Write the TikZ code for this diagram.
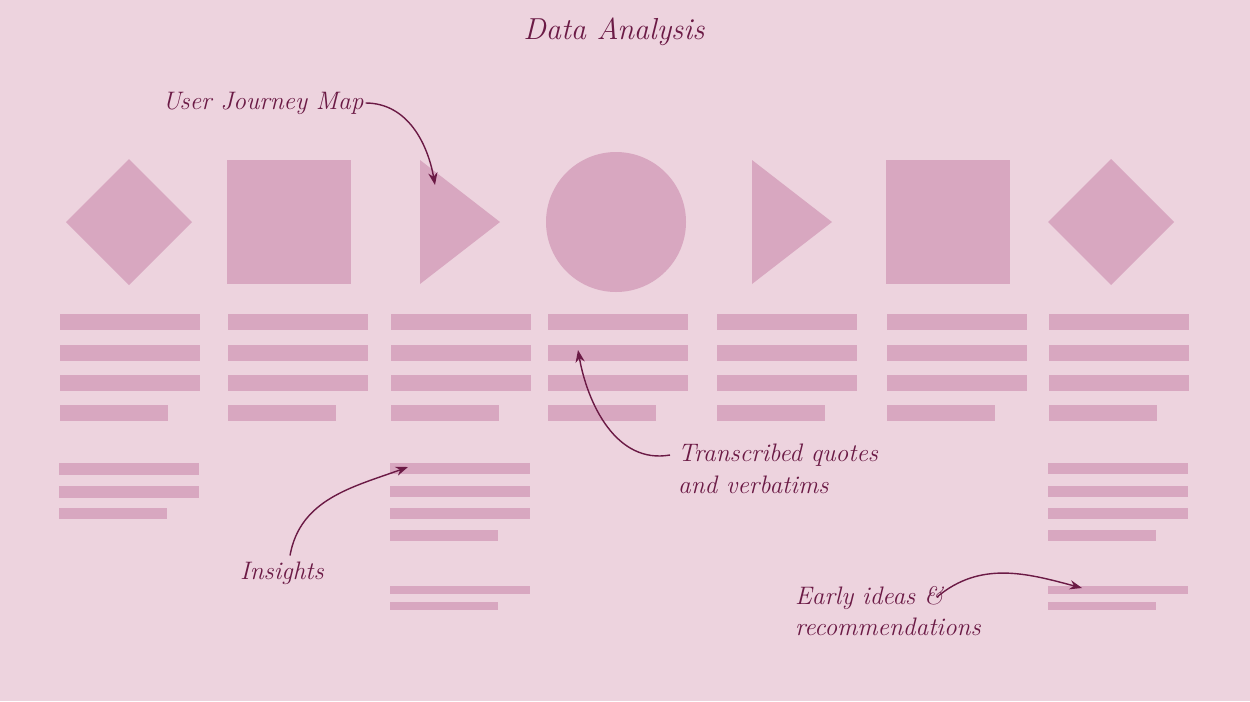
\documentclass[tikz,border=0pt]{standalone}
\usepackage{tikz}
\usetikzlibrary{positioning,arrows.meta}
\definecolor{bgpink}{HTML}{EDD3DE}
\definecolor{shapepink}{HTML}{D8A7C0}
\definecolor{inkred}{HTML}{6B1A45}
\tikzset{
  blob/.style={fill=shapepink,draw=none},
  note/.style={text=inkred,font=\itshape\Large,align=left,inner sep=1pt},
  pointer/.style={draw=inkred,line width=0.8pt,-{Stealth[length=7pt]}}
}
\begin{document}
\begin{tikzpicture}[x=0.02cm,y=-0.02cm]
    \fill[bgpink] (0,0) rectangle (1250,701);
    \useasboundingbox (0,0) rectangle (1250,701);
    % top shapes
    \fill[blob] (66,222) -- (129,159) -- (192,222) -- (129,285) -- cycle;
    \fill[blob] (227,160) rectangle (351,284);
    \fill[blob] (420,160) -- (500,222) -- (420,284) -- cycle;
    \fill[blob] (616,222) circle [radius=70];
    \fill[blob] (752,160) -- (832,222) -- (752,284) -- cycle;
    \fill[blob] (886,160) rectangle (1010,284);
    \fill[blob] (1048,222) -- (1111,159) -- (1174,222) -- (1111,285) -- cycle;
    % text bars under every shape
    \foreach \x in {60,228,391,548,717,887,1049} {
      \foreach \y in {314,345,375}
        \fill[blob] (\x,\y) rectangle ++(140,16);
      \fill[blob] (\x,405) rectangle ++(108,16);
    }
    % insight bars
    \foreach \y in {463,486}
      \fill[blob] (59,\y) rectangle ++(140,12);
    \fill[blob] (59,508) rectangle ++(108,11);
    \foreach \x in {390,1048} {
      \foreach \y in {463,486,508}
        \fill[blob] (\x,\y) rectangle ++(140,11);
      \fill[blob] (\x,530) rectangle ++(108,11);
      \fill[blob] (\x,586) rectangle ++(140,8);
      \fill[blob] (\x,602) rectangle ++(108,8);
    }
    % labels
    \node[note,font=\itshape\LARGE] (title) at (614,32) {Data Analysis};
    \node[note] (journey) at (263,103) {User Journey Map};
    \node[note,anchor=west] (quotes) at (676,469) {Transcribed quotes\\and verbatims};
    \node[note] (insights) at (282,573) {Insights};
    \node[note,anchor=west] (ideas) at (793,611) {Early ideas \&\\recommendations};
    \coordinate (journeytip) at (435,185);
    \coordinate (quotestip) at (578,350);
    \coordinate (insightstip) at (408,467);
    \coordinate (ideastip) at (1082,588);
    \draw[pointer] (journey.east) to[out=0,in=100] (journeytip);
    \draw[pointer] (quotes.west) ++(-6,-14) to[out=190,in=-80] (quotestip);
    \draw[pointer] (insights.north) ++(8,-4) to[out=80,in=200] (insightstip);
    \draw[pointer] (937,597) to[out=40,in=165] (ideastip);
\end{tikzpicture}
\end{document}
